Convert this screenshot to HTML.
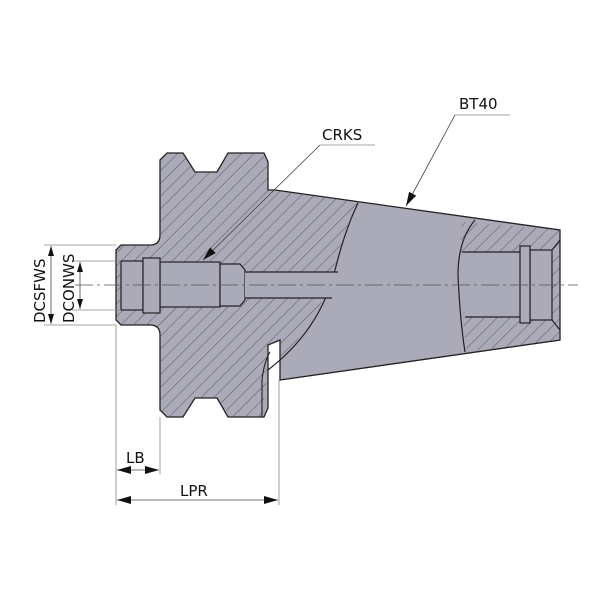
<!DOCTYPE html>
<html><head><style>body{margin:0;background:#fff}svg{display:block}text{font-family:"DejaVu Sans","Liberation Sans",sans-serif;font-size:15px;fill:#111}</style></head>
<body>
<svg width="600" height="600" viewBox="0 0 600 600" xmlns="http://www.w3.org/2000/svg">
<defs>
<pattern id="h" width="9" height="9" patternUnits="userSpaceOnUse" patternTransform="rotate(45)">
<line x1="0" y1="0" x2="0" y2="9" stroke="#444" stroke-width="0.8"/>
</pattern>
<marker id="a" markerWidth="10" markerHeight="6" refX="10" refY="3" orient="auto" markerUnits="userSpaceOnUse"><path d="M0,0L10,3L0,6z" fill="#111"/></marker>
<marker id="b" markerWidth="14" markerHeight="8" refX="14" refY="4" orient="auto" markerUnits="userSpaceOnUse"><path d="M0,0L14,4L0,8z" fill="#111"/></marker>
</defs>
<path d="M160,160 L167,153 L183,153 L195,172 L217,172 L228,153 L264,153 L268,162 L268,190 L275,190 L560,230 L560,340 L280,380 L280,340 L268,345 L268,408 L264,417 L228,417 L217,398 L195,398 L183,417 L167,417 L160,410 L160,335 Q160,325 150,325 L121,325 L116,320 L116,250 L121,245 L150,245 Q160,245 160,235 Z" fill="#abaab9" stroke="#222" stroke-width="1.3"/>
<clipPath id="c1"><path d="M150,140 L360,140 L358,203 Q340,240 330,285 Q305,340 268,370 L262,420 L100,420 L100,140 Z"/></clipPath>
<clipPath id="c2"><path d="M462,200 L600,200 L600,360 L468,360 Q462,320 460,285 Q458,245 462,222 Z"/></clipPath>
<path d="M160,160 L167,153 L183,153 L195,172 L217,172 L228,153 L264,153 L268,162 L268,190 L275,190 L560,230 L560,340 L280,380 L280,340 L268,345 L268,408 L264,417 L228,417 L217,398 L195,398 L183,417 L167,417 L160,410 L160,335 Q160,325 150,325 L121,325 L116,320 L116,250 L121,245 L150,245 Q160,245 160,235 Z" fill="url(#h)" clip-path="url(#c1)"/>
<path d="M460,222 L560,230 L560,340 L465,352 Z" fill="url(#h)" clip-path="url(#c2)"/>
<path d="M358,203 Q345,230 335,270 Q320,330 268,370" fill="none" stroke="#222" stroke-width="1.2"/>
<path d="M475,220 Q458,240 458,275 Q460,320 465,352" fill="none" stroke="#222" stroke-width="1.2"/>
<path d="M262,417 L262,380 Q264,362 270,352" fill="none" stroke="#222" stroke-width="1.1"/>
<g fill="#abaab9" stroke="#222" stroke-width="1.2">
<rect x="121" y="261" width="22" height="49"/>
<rect x="160" y="262" width="60" height="45"/>
<path d="M220,264 L240,264 L245,270 L245,300 L240,306 L220,306 Z"/>
<path d="M245,272 L338,272 L333,298 L245,298 Z" stroke="none"/>
<line x1="245" y1="272" x2="338" y2="272"/><line x1="245" y1="298" x2="332" y2="298"/>
<rect x="143" y="258" width="17" height="55"/>
<path d="M462,252 L520,252 L520,317 L465,317 Q460,285 462,252 Z" stroke="none"/>
<line x1="462" y1="252" x2="520" y2="252"/><line x1="465" y1="317" x2="520" y2="317"/>
<rect x="530" y="250" width="22" height="70"/>
<path d="M552,250 L560,240 M552,320 L560,330" fill="none"/>
<rect x="520" y="246" width="10" height="77"/>
</g>
<line x1="75" y1="285" x2="578" y2="285" stroke="#555" stroke-width="0.8" stroke-dasharray="18,4,3,4"/>
<g stroke="#888" stroke-width="0.8">
<line x1="44" y1="245" x2="116" y2="245"/><line x1="44" y1="325" x2="116" y2="325"/>
<line x1="72" y1="261" x2="121" y2="261"/><line x1="72" y1="310" x2="121" y2="310"/>
<line x1="116" y1="325" x2="116" y2="505"/><line x1="160" y1="417" x2="160" y2="474"/><line x1="279" y1="380" x2="279" y2="505"/>
<line x1="320" y1="145" x2="375" y2="145"/>
<line x1="455" y1="115" x2="510" y2="115"/>
</g>
<g stroke="#444" stroke-width="0.8" fill="none">
<line x1="51" y1="285" x2="51" y2="246" marker-end="url(#a)"/><line x1="51" y1="285" x2="51" y2="324" marker-end="url(#a)"/>
<line x1="80" y1="285" x2="80" y2="262" marker-end="url(#a)"/><line x1="80" y1="285" x2="80" y2="309" marker-end="url(#a)"/>
<line x1="138" y1="470" x2="117" y2="470" marker-end="url(#b)"/><line x1="138" y1="470" x2="159" y2="470" marker-end="url(#b)"/>
<line x1="200" y1="500" x2="117" y2="500" marker-end="url(#b)"/><line x1="200" y1="500" x2="278" y2="500" marker-end="url(#b)"/>
<line x1="320" y1="145" x2="203" y2="260" marker-end="url(#b)"/>
<line x1="455" y1="115" x2="406" y2="206" marker-end="url(#b)"/>
</g>
<text x="126" y="463">LB</text>
<text x="180" y="496">LPR</text>
<text x="322" y="140">CRKS</text>
<text x="459" y="109">BT40</text>
<text transform="translate(45,323) rotate(-90)">DCSFWS</text>
<text transform="translate(74,323) rotate(-90)">DCONWS</text>
</svg>
</body></html>
